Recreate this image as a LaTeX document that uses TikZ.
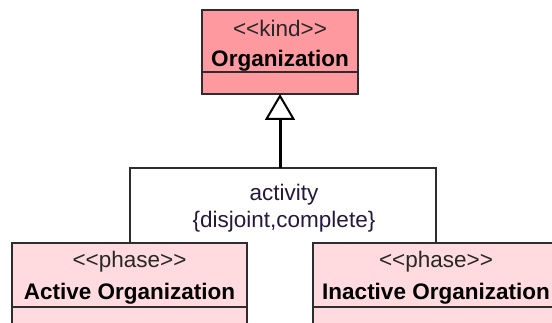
\documentclass[tikz,border=0pt]{standalone}
\usepackage{fontspec}
\setmainfont{Liberation Sans}
\usepackage{tikz}
\usetikzlibrary{arrows.meta, positioning}
\definecolor{kindfill}{RGB}{255,153,160}
\definecolor{phasefill}{RGB}{255,218,222}
\definecolor{umlborder}{RGB}{45,45,45}
\definecolor{stereogray}{RGB}{40,40,40}
\definecolor{constrdark}{RGB}{35,25,60}
\newcommand{\stereo}[1]{{\color{stereogray}<\kern0pt<#1>\kern0pt>}}
\newcommand{\headstrut}[1]{\rule{0pt}{#1}}
\tikzset{
  kindhead/.style={rectangle, draw=umlborder, fill=kindfill,
    minimum width=156pt, minimum height=62pt, align=center,
    inner sep=0pt, outer sep=0pt, line width=2pt,
    font=\fontsize{22.5}{30}\selectfont},
  kindattr/.style={rectangle, draw=umlborder, fill=kindfill,
    minimum width=156pt, minimum height=22pt, inner sep=0pt, outer sep=0pt, line width=2pt},
  phasehead/.style={rectangle, draw=umlborder, fill=phasefill,
    minimum height=64pt, align=center,
    inner sep=0pt, outer sep=0pt, line width=2pt,
    font=\fontsize{22.5}{32}\selectfont},
  phaseattr/.style={rectangle, draw=umlborder, fill=phasefill,
    minimum height=40pt, inner sep=0pt, outer sep=0pt, line width=2pt},
  constr/.style={align=center, text=constrdark,
    font=\fontsize{22.5}{27}\selectfont},
  genline/.style={line width=2pt, draw=umlborder},
  genarrow/.style={-{Triangle[open, length=26pt, width=30pt, fill=white, line width=2pt]},
    line width=3pt, draw=black}
}

\begin{document}
\begin{tikzpicture}[x=1pt, y=-1pt]
  \useasboundingbox (0,0) rectangle (552,323);
  \clip (0,0) rectangle (552,323);

  % superclass
  \node[kindhead] (org) at (280,41) {\headstrut{26pt}\stereo{kind}\\\textbf{Organization}};
  \node[kindattr, below=0pt of org] (orgattr) {};

  % subclasses
  \node[phasehead, minimum width=235pt] (actv) at (129.5,275) {\headstrut{22pt}\stereo{phase}\\\textbf{Active Organization}};
  \node[phaseattr, minimum width=235pt, below=0pt of actv] (actvattr) {};
  \node[phasehead, minimum width=246pt] (inactv) at (436,275) {\headstrut{22pt}\stereo{phase}\\\textbf{Inactive Organization}};
  \node[phaseattr, minimum width=246pt, below=0pt of inactv] (inactvattr) {};

  % generalization set
  \coordinate (bus) at (280,168);
  \draw[genline] (actv.north) |- (bus) -| (inactv.north);
  \draw[genarrow] (bus) -- (orgattr.south);
  \node[constr] (gset) at (284,208) {activity\\\{disjoint,complete\}};
\end{tikzpicture}
\end{document}
